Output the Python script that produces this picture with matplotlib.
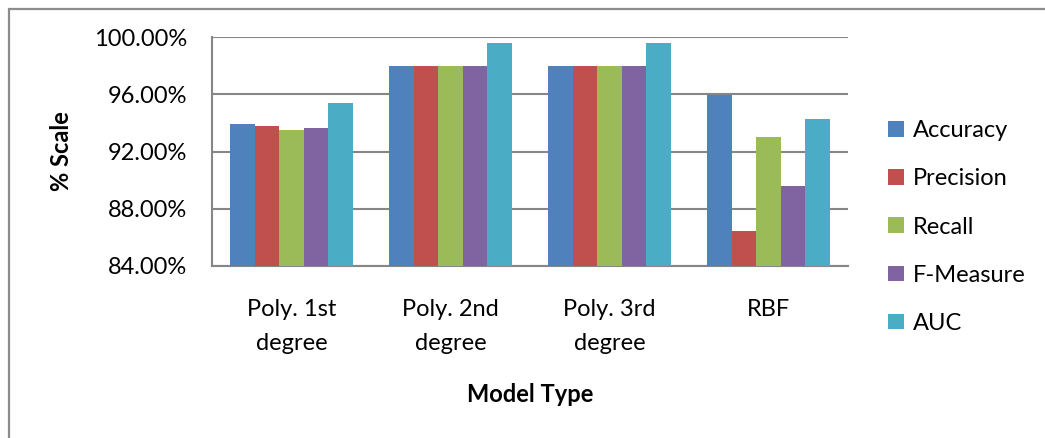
import matplotlib
matplotlib.use("Agg")
import matplotlib.pyplot as plt
import numpy as np
from matplotlib.ticker import FuncFormatter
from matplotlib.patches import Rectangle

# model results (%)
models = ["Poly. 1st\ndegree", "Poly. 2nd\ndegree", "Poly. 3rd\ndegree", "RBF"]
metrics = ["Accuracy", "Precision", "Recall", "F-Measure", "AUC"]
accuracy = [93.94, 97.97, 97.97, 95.97]
precision = [93.80, 97.97, 97.97, 86.45]
recall = [93.47, 97.97, 97.97, 92.98]
f_measure = [93.61, 97.97, 97.97, 89.60]
auc = [95.36, 99.56, 99.56, 94.26]

colors = ["#4F81BD", "#C0504D", "#9BBB59", "#8064A2", "#4BACC6"]

plt.rcParams['font.family'] = ['Lato', 'DejaVu Sans']
fs = 17

fig = plt.figure(figsize=(10.45, 4.38), dpi=100)
W, H = 1045, 438
ax = fig.add_axes([212 / W, (H - 266) / H, 636 / W, 229 / H])

# outer chart border
fig.patches.append(Rectangle((8.5 / W, -0.1), 1.2, (H - 8.5) / H + 0.1,
                             transform=fig.transFigure, fill=False,
                             edgecolor="#8c8c8c", linewidth=1.6))

series = [accuracy, precision, recall, f_measure, auc]
x = np.arange(len(models))
bw = 1 / 6.5
for i, (vals, lab) in enumerate(zip(series, metrics)):
    ax.bar(x + (i - 2) * bw, vals, width=bw, color=colors[i], label=lab,
           zorder=3)

ax.set_xlim(-0.5, len(models) - 0.5)
ax.set_ylim(84, 100)
ax.set_yticks([84, 88, 92, 96, 100])
ax.yaxis.set_major_formatter(FuncFormatter(lambda v, p: "%.2f%%" % v))
ax.set_xticks(x)
ax.set_xticklabels(models, linespacing=1.75)
ax.tick_params(axis="y", length=0, pad=18, labelsize=fs)
ax.tick_params(axis="x", length=0, pad=24, labelsize=fs)
ax.grid(axis="y", color="#868686", linewidth=1.5, zorder=0)

for s in ["top", "right"]:
    ax.spines[s].set_visible(False)
for s in ["left", "bottom"]:
    ax.spines[s].set_color("#868686")
    ax.spines[s].set_linewidth(1.5)

ax.set_ylabel("% Scale", fontsize=fs, fontweight="bold", labelpad=15)
ax.set_xlabel("Model Type", fontsize=fs, fontweight="bold", labelpad=21)

ax.legend(loc="upper left", bbox_to_anchor=(867 / W, (H - 99) / H),
          bbox_transform=fig.transFigure, frameon=False, fontsize=fs,
          handlelength=0.65, handleheight=0.65, handletextpad=0.4,
          labelspacing=1.15)

fig.savefig("out.png", dpi=100)
